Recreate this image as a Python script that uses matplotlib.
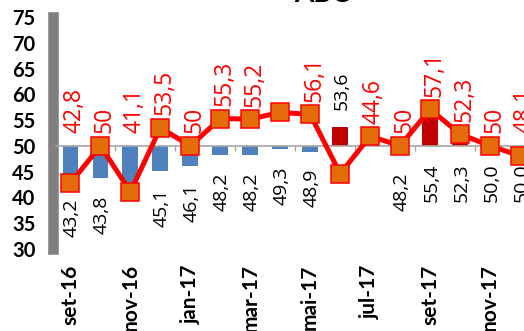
import numpy as np
import matplotlib
matplotlib.use("Agg")
import matplotlib.pyplot as plt

plt.rcParams['font.family'] = ['Lato', 'DejaVu Sans']
LABEL_FONT = ['Open Sans', 'DejaVu Sans']

# Monthly categories (Sep 2016 - Dec 2017)
months = ['set-16', 'out-16', 'nov-16', 'dez-16', 'jan-17', 'fev-17', 'mar-17', 'abr-17',
          'mai-17', 'jun-17', 'jul-17', 'ago-17', 'set-17', 'out-17', 'nov-17', 'dez-17']

# Indicator line (red, square markers)
line_vals = [42.8, 50.0, 41.1, 53.5, 50.0, 55.3, 55.2, 56.5,
             56.1, 44.6, 51.9, 50.0, 57.1, 52.3, 50.0, 48.1]
line_labelled = [True, True, True, True, True, True, True, False,
                 True, True, False, True, True, True, True, True]

# Second indicator shown as bars around the 50 neutral level
bar_vals = [43.2, 43.8, 42.0, 45.1, 46.1, 48.2, 48.2, 49.3,
            48.9, 53.6, np.nan, 48.2, 55.4, 52.3, 50.0, 50.0]
bar_labelled = [True, True, False, True, True, True, True, True,
                True, True, False, True, True, True, True, True]

neutral = 50.0
yticks = list(range(30, 80, 5))

BLUE = '#4F81BD'
DARKRED = '#C00000'
RED = '#FF0000'
ORANGE = '#E46C0A'
GRAY = '#808080'

W, H = 524, 331
fig = plt.figure(figsize=(W / 100, H / 100), dpi=100)
ax = fig.add_axes([55.5 / W, 82 / H, (535 - 55.5) / W, 232 / H])

x = np.arange(len(months))
bv = np.array(bar_vals, dtype=float)
colors = [DARKRED if v > neutral else BLUE for v in np.nan_to_num(bv, nan=neutral)]
ax.bar(x, bv - neutral, bottom=neutral, width=0.53, color=colors, zorder=2)

ax.plot(x, line_vals, color=RED, lw=3.6, marker='s', markersize=13,
        markerfacecolor=ORANGE, markeredgecolor=RED, markeredgewidth=1.1,
        zorder=4, clip_on=False)

ax.set_xlim(-0.5, len(months) - 0.5)
ax.set_ylim(yticks[0], yticks[-1])

# Axes styling
for s in ('top', 'right'):
    ax.spines[s].set_visible(False)
ax.spines['left'].set_color(GRAY)
ax.spines['left'].set_linewidth(7.6)
ax.spines['left'].set_position(('outward', 1.5))
ax.spines['bottom'].set_position(('data', neutral))
ax.spines['bottom'].set_color('#A6A6A6')
ax.spines['bottom'].set_linewidth(1.2)
ax.spines['bottom'].set_zorder(3)

ax.set_yticks(yticks)
ax.tick_params(axis='y', length=0, pad=13, labelsize=14.5)
for t in ax.get_yticklabels():
    t.set_fontweight('bold')

ax.set_xticks(np.arange(1.5, len(months) - 0.5, 2))
ax.set_xticklabels([])
ax.tick_params(axis='x', direction='out', length=3.8, width=1, color='#A6A6A6')

sec = ax.secondary_xaxis('bottom')
sec.set_xticks(x[::2], labels=months[::2])
sec.tick_params(length=0, pad=11, labelsize=15)
sec.spines['bottom'].set_visible(False)
for t in sec.get_xticklabels():
    t.set_rotation(90)
    t.set_fontweight('bold')


def fmt(v, decimals):
    if decimals == 0 and float(v).is_integer():
        return f"{v:.0f}"
    return f"{v:.1f}".replace('.', ',')


# Line value labels (the June dip's label sits beside the July point)
for i, (v, show) in enumerate(zip(line_vals, line_labelled)):
    if not show:
        continue
    xi = i + 1.1 if months[i] == 'jun-17' else i + 0.15
    anchor = max(line_vals[i + 1] if months[i] == 'jun-17' else v, neutral)
    ax.annotate(fmt(v, 0), (xi, anchor), xytext=(0, 9), textcoords='offset points',
                rotation=90, ha='center', va='bottom', color=RED, fontsize=16.5,
                family=LABEL_FONT, zorder=6, annotation_clip=False)

# Bar value labels
for i, (v, show) in enumerate(zip(bar_vals, bar_labelled)):
    if not show or np.isnan(v):
        continue
    if months[i] == 'jun-17':
        ax.annotate(fmt(v, 1), (i + 0.05, v), xytext=(0, 12.5), textcoords='offset points',
                    rotation=90, ha='center', va='bottom', color='black', fontsize=14,
                    family=LABEL_FONT, zorder=6, annotation_clip=False)
    else:
        ax.annotate(fmt(v, 1), (i + 0.05, min(v, neutral)), xytext=(0, -12.5),
                    textcoords='offset points', rotation=90, ha='center', va='top',
                    color='black', fontsize=14, family=LABEL_FONT, zorder=6,
                    annotation_clip=False)

fig.text(322 / W, 1 - 2 / H, 'ABC', ha='center', va='baseline',
         fontsize=20, fontweight='bold')

fig.savefig('out.png', dpi=100)
